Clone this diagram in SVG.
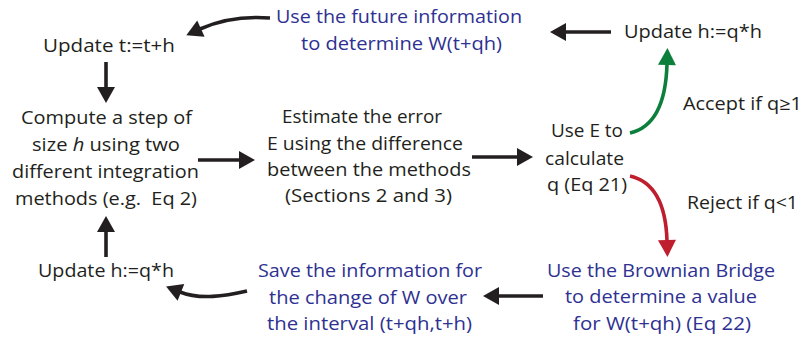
<svg xmlns="http://www.w3.org/2000/svg" width="807" height="341" viewBox="0 0 807 341">
<style>
text{font-family:"Open Sans","Liberation Sans",sans-serif;font-size:17.8px;fill:#231f20;text-anchor:start}
.b{fill:#2e3192}
.k{fill:none;stroke:#231f20;stroke-width:3.6}
.g{fill:none;stroke:#0d7f3c;stroke-width:3.6}
.r{fill:none;stroke:#be1e2d;stroke-width:3.6}
</style>
<defs>
<marker id="ak" markerUnits="userSpaceOnUse" markerWidth="16" markerHeight="20" refX="0" refY="9" orient="auto" overflow="visible"><path d="M-1,0 L15,9 L-1,18 Z" fill="#231f20"/></marker>
<marker id="ag" markerUnits="userSpaceOnUse" markerWidth="16" markerHeight="20" refX="0" refY="9" orient="auto" overflow="visible"><path d="M-1,0 L16,9 L-1,18 Z" fill="#0d7f3c"/></marker>
<marker id="ar" markerUnits="userSpaceOnUse" markerWidth="16" markerHeight="20" refX="0" refY="9" orient="auto" overflow="visible"><path d="M-1,0 L16,9 L-1,18 Z" fill="#be1e2d"/></marker>
</defs>
<g id="connectors">
<path class="k" d="M270,18 C245,16 220,20 200,29" marker-end="url(#ak)"/>
<path class="k" d="M106,62 L106,88" marker-end="url(#ak)"/>
<path class="k" d="M198,160 L240,160" marker-end="url(#ak)"/>
<path class="k" d="M472,157 L518,157" marker-end="url(#ak)"/>
<path class="k" d="M611,32 L565,32" marker-end="url(#ak)"/>
<path class="k" d="M543,296 L498,296" marker-end="url(#ak)"/>
<path class="k" d="M106,257 L106,231" marker-end="url(#ak)"/>
<path class="k" d="M247,291 C225,296 200,300 180,292" marker-end="url(#ak)"/>
<path class="g" d="M630,133 C656,127 666,100 667,64" marker-end="url(#ag)"/>
<path class="r" d="M630,176 C656,182 666,206 667,241" marker-end="url(#ar)"/>
</g>
<g id="future">
<text class="b" x="276" y="23" textLength="246" lengthAdjust="spacingAndGlyphs">Use the future information</text>
<text class="b" x="301" y="50" textLength="201" lengthAdjust="spacingAndGlyphs">to determine W(t+qh)</text>
</g>
<g id="update-t">
<text x="43" y="52" textLength="132" lengthAdjust="spacingAndGlyphs">Update t:=t+h</text>
</g>
<g id="update-h-top">
<text x="624" y="38" textLength="138" lengthAdjust="spacingAndGlyphs">Update h:=q*h</text>
</g>
<g id="compute">
<text x="21" y="124" textLength="171" lengthAdjust="spacingAndGlyphs">Compute a step of</text>
<text x="32" y="151" textLength="148" lengthAdjust="spacingAndGlyphs">size <tspan font-style="italic">h</tspan> using two</text>
<text x="12" y="178" textLength="187" lengthAdjust="spacingAndGlyphs">different integration</text>
<text x="15" y="205" textLength="182" lengthAdjust="spacingAndGlyphs" xml:space="preserve">methods (e.g.  Eq 2)</text>
</g>
<g id="estimate">
<text x="282" y="123" textLength="160" lengthAdjust="spacingAndGlyphs">Estimate the error</text>
<text x="267" y="150" textLength="196" lengthAdjust="spacingAndGlyphs">E using the difference</text>
<text x="267" y="176" textLength="204" lengthAdjust="spacingAndGlyphs">between the methods</text>
<text x="285" y="202" textLength="167" lengthAdjust="spacingAndGlyphs">(Sections 2 and 3)</text>
</g>
<g id="use-e">
<text x="551" y="137" textLength="72" lengthAdjust="spacingAndGlyphs">Use E to</text>
<text x="545" y="165" textLength="79" lengthAdjust="spacingAndGlyphs">calculate</text>
<text x="547" y="191" textLength="80" lengthAdjust="spacingAndGlyphs">q (Eq 21)</text>
</g>
<g id="accept">
<text x="683" y="110" textLength="119" lengthAdjust="spacingAndGlyphs">Accept if q≥1</text>
</g>
<g id="reject">
<text x="687" y="209" textLength="111" lengthAdjust="spacingAndGlyphs">Reject if q&lt;1</text>
</g>
<g id="brownian">
<text class="b" x="547" y="277" textLength="228" lengthAdjust="spacingAndGlyphs">Use the Brownian Bridge</text>
<text class="b" x="565" y="303" textLength="192" lengthAdjust="spacingAndGlyphs">to determine a value</text>
<text class="b" x="573" y="330" textLength="178" lengthAdjust="spacingAndGlyphs">for W(t+qh) (Eq 22)</text>
</g>
<g id="save">
<text class="b" x="258" y="277" textLength="224" lengthAdjust="spacingAndGlyphs">Save the information for</text>
<text class="b" x="269" y="304" textLength="198" lengthAdjust="spacingAndGlyphs">the change of W over</text>
<text class="b" x="267" y="330" textLength="205" lengthAdjust="spacingAndGlyphs">the interval (t+qh,t+h)</text>
</g>
<g id="update-h-bottom">
<text x="38" y="277" textLength="136" lengthAdjust="spacingAndGlyphs">Update h:=q*h</text>
</g>
</svg>
